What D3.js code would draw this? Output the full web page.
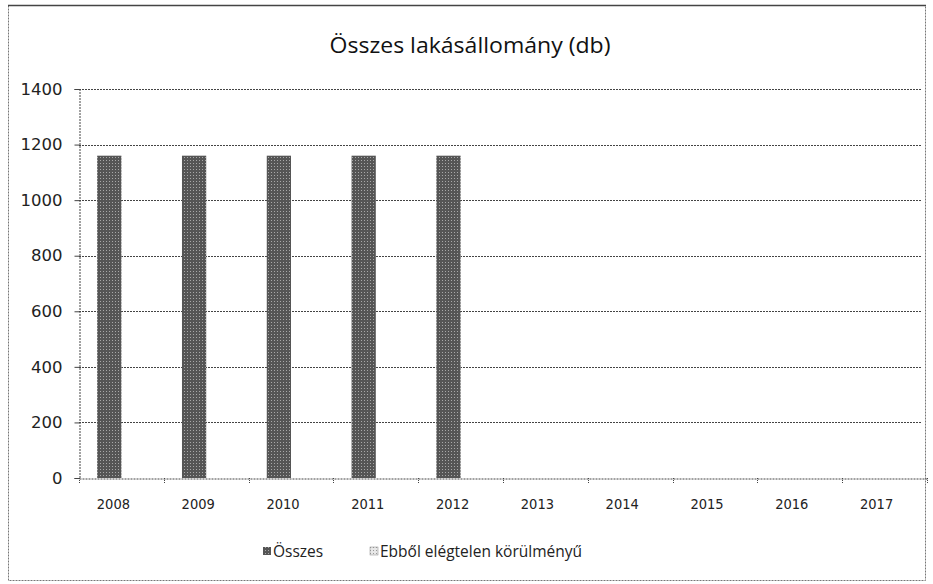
<!DOCTYPE html>
<html><head><meta charset="utf-8">
<script src="https://cdn.jsdelivr.net/npm/d3@7"></script>
<style>body{margin:0;background:#fff;} svg{display:block;}</style>
</head><body>
<svg id="c" width="933" height="584"></svg>
<script>
const years = ["2008","2009","2010","2011","2012","2013","2014","2015","2016","2017"];
const osszes = [1160, 1160, 1160, 1160, 1160, null, null, null, null, null];
const elegtelen = [0, 0, 0, 0, 0, null, null, null, null, null];
const seriesNames = ["Összes", "Ebből elégtelen körülményű"];
const yTicks = [0, 200, 400, 600, 800, 1000, 1200, 1400];
const title = "Összes lakásállomány (db)";

const svg = d3.select("#c");
const pLeft = 79, pRight = 927, pTop = 89, pBottom = 478;

// outer frame
svg.append("rect").attr("x", 8.5).attr("y", 5.5).attr("width", 917).attr("height", 575)
  .attr("fill", "#fff").attr("stroke", "#777").attr("stroke-width", 1).attr("stroke-dasharray", "2,1");
svg.append("line").attr("x1", 8).attr("x2", 926).attr("y1", 5.5).attr("y2", 5.5)
  .attr("stroke", "#444").attr("stroke-width", 1.5);

const x = d3.scaleBand().domain(years).range([pLeft, pRight]).paddingInner(0).paddingOuter(0);
const xs = d3.scaleBand().domain(seriesNames).range([0, x.bandwidth()]).paddingInner(0).paddingOuter(0.75);
const y = d3.scaleLinear().domain([0, 1400]).range([pBottom, pTop]);

// gridlines
svg.append("g").selectAll("line").data(yTicks.filter(d => d > 0)).join("line")
  .attr("x1", pLeft).attr("x2", pRight - 6)
  .attr("y1", d => Math.round(y(d)) + 0.5).attr("y2", d => Math.round(y(d)) + 0.5)
  .attr("stroke", "#444").attr("stroke-width", 1).attr("stroke-dasharray", "2,1");

// bars
const data = years.map((yr, i) => ({yr, vals: [osszes[i], elegtelen[i]]}));
const defs = svg.append("defs");
const pattern = defs.append("pattern").attr("id", "dith")
  .attr("width", 3).attr("height", 3).attr("patternUnits", "userSpaceOnUse");
pattern.append("rect").attr("width", 3).attr("height", 3).attr("fill", "#555");
pattern.append("rect").attr("x", 1).attr("y", 1).attr("width", 1).attr("height", 1).attr("fill", "#a8a8a8");
const pattern2 = defs.append("pattern").attr("id", "dith2")
  .attr("width", 3).attr("height", 3).attr("patternUnits", "userSpaceOnUse");
pattern2.append("rect").attr("width", 3).attr("height", 3).attr("fill", "#e8e8e8");
pattern2.append("rect").attr("x", 1).attr("y", 1).attr("width", 1).attr("height", 1).attr("fill", "#999");
const fills = ["url(#dith)", "url(#dith2)"];

const g = svg.append("g");
data.forEach(d => {
  d.vals.forEach((v, j) => {
    if (v == null || v === 0) return;
    g.append("rect")
      .attr("x", x(d.yr) + xs(seriesNames[j]))
      .attr("y", y(v))
      .attr("width", xs.bandwidth())
      .attr("height", y(0) - y(v))
      .attr("fill", fills[j]);
  });
});

// axes
const yAxis = d3.axisLeft(y).tickValues(yTicks).tickSize(5).tickPadding(12).tickFormat(d3.format("d"));
const ya = svg.append("g").attr("transform", `translate(${pLeft + 0.5},0)`).call(yAxis);
ya.select(".domain").attr("stroke", "#444").attr("stroke-dasharray", "2,1");
ya.selectAll(".tick line").attr("stroke", "#444");
ya.selectAll("text").attr("font-family", "DejaVu Sans, sans-serif").attr("font-size", 16.5).attr("fill", "#222");

const xAxis = d3.axisBottom(x).tickSize(0).tickPadding(20);
const xa = svg.append("g").attr("transform", `translate(0,${pBottom + 0.5})`).call(xAxis);
xa.select(".domain").attr("stroke", "#444").attr("stroke-dasharray", "2,1");
xa.selectAll("text").attr("font-family", "DejaVu Sans Condensed, DejaVu Sans, sans-serif").attr("font-size", 14.5).attr("fill", "#222")
  .attr("dx", -8);
// category separator ticks
svg.append("g").selectAll("line").data(years.concat(["end"])).join("line")
  .attr("x1", (d, i) => Math.round(pLeft + i * x.step()) + 0.5)
  .attr("x2", (d, i) => Math.round(pLeft + i * x.step()) + 0.5)
  .attr("y1", pBottom).attr("y2", pBottom + 6)
  .attr("stroke", "#444").attr("stroke-dasharray", "1,1");

// title
svg.append("text").attr("x", 470).attr("y", 53).attr("text-anchor", "middle")
  .attr("font-family", "Open Sans, sans-serif").attr("font-size", 21).attr("fill", "#111")
  .attr("textLength", 281).attr("lengthAdjust", "spacingAndGlyphs")
  .text(title);

// legend
const lg = svg.append("g").attr("font-family", "Open Sans, sans-serif").attr("font-size", 15.5).attr("fill", "#222");
const legX = [263, 370];
seriesNames.forEach((s, i) => {
  lg.append("rect").attr("x", legX[i]).attr("y", 547).attr("width", 8).attr("height", 8)
    .attr("fill", fills[i]).attr("stroke", i === 1 ? "#888" : "none").attr("stroke-width", 0.5);
  lg.append("text").attr("x", legX[i] + 10).attr("y", 557).text(s);
});
</script>
</body></html>
